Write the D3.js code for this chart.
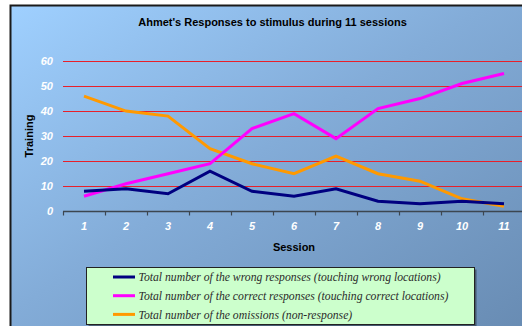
<!DOCTYPE html>
<html>
<head>
<meta charset="utf-8">
<script src="https://cdn.jsdelivr.net/npm/d3@7"></script>
<style>
  html, body { margin: 0; padding: 0; background: #fff; }
  svg { display: block; }
</style>
</head>
<body>
<svg id="chart" width="522" height="326"></svg>
<script>
// Session numbers and the three response counts per session
const sessions = ["1","2","3","4","5","6","7","8","9","10","11"];
const wrongResponses   = [8, 9, 7, 16, 8, 6, 9, 4, 3, 4, 3];
const correctResponses = [6, 11, 15, 19, 33, 39, 29, 41, 45, 51, 55];
const omissions        = [46, 40, 38, 25, 19, 15, 22, 15, 12, 5, 2];
const yTicks = [0, 10, 20, 30, 40, 50, 60];

const seriesNames = [
  "Total number of the wrong responses (touching wrong locations)",
  "Total number of the correct responses (touching correct locations)",
  "Total number of the omissions (non-response)"
];
const seriesColors = ["#000080", "#ff00ff", "#ff9900"];
const seriesValues = [wrongResponses, correctResponses, omissions];

const svg = d3.select("#chart");

// background panel with corner gradient
const defs = svg.append("defs");
const grad = defs.append("linearGradient")
  .attr("id", "bg")
  .attr("x1", 0).attr("y1", 0).attr("x2", 1).attr("y2", 1);
grad.append("stop").attr("offset", "0").attr("stop-color", "#9fd0ff");
grad.append("stop").attr("offset", "0.45").attr("stop-color", "#83acd8");
grad.append("stop").attr("offset", "1").attr("stop-color", "#6689b0");

svg.append("rect")
  .attr("x", 10.5).attr("y", 5.5)
  .attr("width", 530).attr("height", 340)
  .attr("fill", "url(#bg)")
  .attr("stroke", "#1a1a1a").attr("stroke-width", 2);

const plot = { left: 63, right: 525, top: 61, bottom: 211.3 };

const x = d3.scaleBand().domain(sessions).range([plot.left, plot.right]);
const y = d3.scaleLinear().domain([0, 60]).range([plot.bottom, plot.top]);

// horizontal red gridlines
svg.append("g")
  .selectAll("line")
  .data(yTicks.filter(d => d > 0))
  .join("line")
  .attr("x1", plot.left).attr("x2", 530)
  .attr("y1", d => Math.round(y(d)) + 0.5)
  .attr("y2", d => Math.round(y(d)) + 0.5)
  .attr("stroke", "#e8202a").attr("stroke-width", 1.2);

// y tick labels
svg.append("g")
  .selectAll("text")
  .data(yTicks)
  .join("text")
  .attr("x", 53)
  .attr("y", d => y(d))
  .attr("dy", "0.35em")
  .attr("text-anchor", "end")
  .attr("fill", "#ffffff")
  .attr("font-family", "Liberation Sans, Arial, sans-serif")
  .attr("font-size", 11)
  .attr("font-weight", "bold")
  .attr("font-style", "italic")
  .text(d => d);

// x axis line with ticks at category boundaries
const axisY = Math.round(plot.bottom) + 0.5;
svg.append("line")
  .attr("x1", plot.left).attr("x2", 530)
  .attr("y1", axisY).attr("y2", axisY)
  .attr("stroke", "#3c4650").attr("stroke-width", 1.5);

const boundaries = sessions.map(s => x(s)).concat([plot.right]);
svg.append("g")
  .selectAll("line")
  .data(boundaries)
  .join("line")
  .attr("x1", d => Math.round(d) + 0.5).attr("x2", d => Math.round(d) + 0.5)
  .attr("y1", axisY).attr("y2", axisY + 4)
  .attr("stroke", "#3c4650").attr("stroke-width", 1.2);

// x tick labels
svg.append("g")
  .selectAll("text")
  .data(sessions)
  .join("text")
  .attr("x", d => x(d) + x.bandwidth() / 2)
  .attr("y", 226)
  .attr("dy", "0.35em")
  .attr("text-anchor", "middle")
  .attr("fill", "#ffffff")
  .attr("font-family", "Liberation Sans, Arial, sans-serif")
  .attr("font-size", 11)
  .attr("font-weight", "bold")
  .attr("font-style", "italic")
  .text(d => d);

// series lines
const line = d3.line()
  .x((d, i) => x(sessions[i]) + x.bandwidth() / 2)
  .y(d => y(d));

// drawn so that the first series ends on top
[2, 1, 0].forEach(k => {
  svg.append("path")
    .datum(seriesValues[k])
    .attr("fill", "none")
    .attr("stroke", seriesColors[k])
    .attr("stroke-width", 3)
    .attr("stroke-linejoin", "miter")
    .attr("d", line);
});

// title and axis titles
svg.append("text")
  .attr("x", 272.5).attr("y", 22)
  .attr("dy", "0.35em")
  .attr("text-anchor", "middle")
  .attr("font-family", "Liberation Sans, Arial, sans-serif")
  .attr("font-size", 11)
  .attr("font-weight", "bold")
  .attr("fill", "#000")
  .text("Ahmet's Responses to stimulus during 11 sessions");

svg.append("text")
  .attr("transform", "translate(29,136) rotate(-90)")
  .attr("dy", "0.35em")
  .attr("text-anchor", "middle")
  .attr("font-family", "Liberation Sans, Arial, sans-serif")
  .attr("font-size", 11)
  .attr("font-weight", "bold")
  .attr("fill", "#000")
  .text("Training");

svg.append("text")
  .attr("x", 294).attr("y", 247)
  .attr("dy", "0.35em")
  .attr("text-anchor", "middle")
  .attr("font-family", "Liberation Sans, Arial, sans-serif")
  .attr("font-size", 11)
  .attr("font-weight", "bold")
  .attr("fill", "#000")
  .text("Session");

// legend box with drop shadow
const lg = { x: 86.5, y: 267.5, w: 388, h: 57 };
svg.append("rect")
  .attr("x", lg.x + 2).attr("y", lg.y + 2)
  .attr("width", lg.w).attr("height", lg.h)
  .attr("fill", "#2a3440").attr("opacity", 0.6);
svg.append("rect")
  .attr("x", lg.x).attr("y", lg.y)
  .attr("width", lg.w).attr("height", lg.h)
  .attr("fill", "#ccffcc")
  .attr("stroke", "#222").attr("stroke-width", 1);

const rows = svg.append("g")
  .selectAll("g")
  .data(seriesNames)
  .join("g")
  .attr("transform", (d, i) => `translate(0,${277 + i * 18.7})`);

rows.append("line")
  .attr("x1", 113).attr("x2", 135)
  .attr("y1", 0).attr("y2", 0)
  .attr("stroke", (d, i) => seriesColors[i])
  .attr("stroke-width", 3);

rows.append("text")
  .attr("x", 138.5).attr("y", 0)
  .attr("dy", "0.35em")
  .attr("font-family", "Liberation Serif, Times New Roman, serif")
  .attr("font-size", 11.7)
  .attr("font-style", "italic")
  .attr("fill", "#2b2b2b")
  .text(d => d);
</script>
</body>
</html>
